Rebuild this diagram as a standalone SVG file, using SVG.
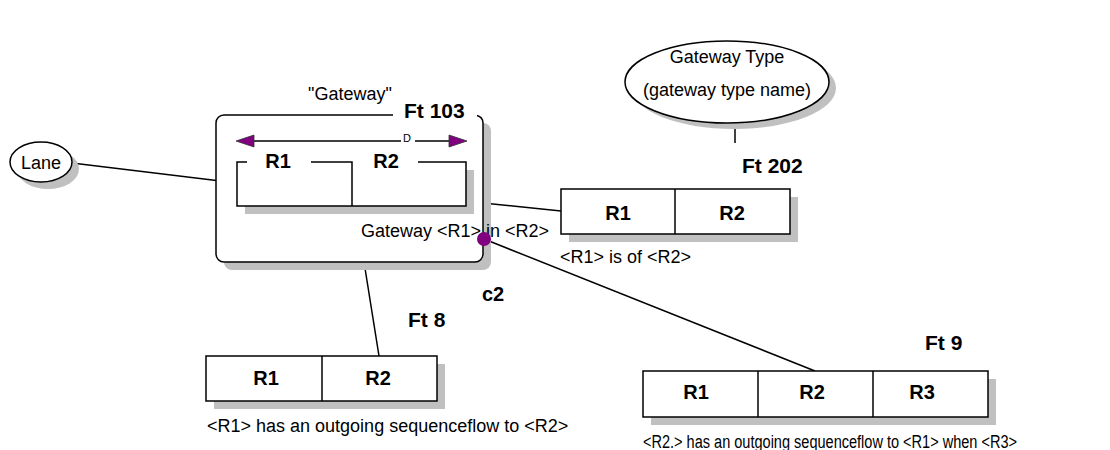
<svg xmlns="http://www.w3.org/2000/svg" width="1110" height="450" viewBox="0 0 1110 450">
<style>
.sh{fill:#c0c0c0;stroke:none}
.bx{fill:#fff;stroke:none}
.ln{fill:none;stroke:#000;stroke-width:1.5}
.t{font-family:"Liberation Sans",Arial,sans-serif;font-size:18px;fill:#000}
.b{font-family:"Liberation Sans",Arial,sans-serif;font-size:20px;font-weight:bold;fill:#000}
.ft{font-family:"Liberation Sans",Arial,sans-serif;font-size:21px;font-weight:bold;fill:#000}
.m{text-anchor:middle}
.pu{fill:#800080;stroke:#333;stroke-width:0.8}
</style>
<rect width="1110" height="450" fill="#fff"/>
<g id="connectors">
<line class="ln" x1="72" y1="163" x2="237" y2="183"/>
<line class="ln" x1="483" y1="203" x2="561" y2="211"/>
<line class="ln" x1="364" y1="262" x2="379" y2="356"/>
<line class="ln" x1="484" y1="239" x2="815" y2="371"/>
<line class="ln" x1="735" y1="127" x2="735" y2="143"/>
</g>
<g id="lane">
<ellipse class="sh" cx="48" cy="169" rx="31" ry="20"/>
<ellipse cx="41" cy="162" rx="31" ry="20" fill="#fff" stroke="#000" stroke-width="1.5"/>
<text class="t m" x="41" y="169">Lane</text>
</g>
<g id="gateway-type">
<ellipse class="sh" cx="734" cy="88" rx="102" ry="41"/>
<ellipse cx="727" cy="82" rx="102" ry="41" fill="#fff" stroke="#000" stroke-width="1.5"/>
<text class="t m" x="727" y="63">Gateway Type</text>
<text class="t m" x="727" y="96">(gateway type name)</text>
</g>
<g id="ft103">
<rect class="sh" x="224" y="123" width="267" height="147" rx="8"/>
<rect class="bx" x="216" y="115" width="267" height="147" rx="8"/>
<path class="ln" d="M393,115 H224 A8,8 0 0 0 216,123 V254 A8,8 0 0 0 224,262 H475 A8,8 0 0 0 483,254 V123 A8,8 0 0 0 477,115.5"/>
<text class="t m" x="350" y="100">"Gateway"</text>
<text class="ft" x="404" y="118">Ft 103</text>
<line class="ln" x1="253" y1="141" x2="401" y2="141"/>
<line class="ln" x1="415" y1="141" x2="450" y2="141"/>
<polygon class="pu" points="236,141 254,135 254,147"/>
<polygon class="pu" points="467,141 449,135 449,147"/>
<text x="403" y="142" font-family="Liberation Sans, Arial, sans-serif" font-size="11">D</text>
<rect class="sh" x="245" y="170" width="229" height="44"/>
<rect class="bx" x="237" y="162" width="229" height="44"/>
<path class="ln" d="M247,162 H237 V206 H466 V162 H418 M311,162 H352 V206"/>
<text class="b m" x="278" y="168">R1</text>
<text class="b m" x="386" y="168">R2</text>
<text class="t" x="361" y="237">Gateway &lt;R1&gt; in &lt;R2&gt;</text>
<circle cx="484" cy="239" r="7" fill="#800080"/>
<text class="b" x="482" y="301">c2</text>
</g>
<g id="ft202">
<rect class="sh" x="569" y="197" width="229" height="45"/>
<rect x="561" y="189" width="229" height="45" fill="#fff" stroke="#000" stroke-width="1.5"/>
<line class="ln" x1="675" y1="189" x2="675" y2="234"/>
<text class="ft" x="742" y="173">Ft 202</text>
<text class="b m" x="618" y="220">R1</text>
<text class="b m" x="732" y="220">R2</text>
<text class="t" x="560" y="263">&lt;R1&gt; is of &lt;R2&gt;</text>
</g>
<g id="ft8">
<rect class="sh" x="214" y="364" width="231" height="45"/>
<rect x="206" y="356" width="231" height="45" fill="#fff" stroke="#000" stroke-width="1.5"/>
<line class="ln" x1="322" y1="356" x2="322" y2="401"/>
<text class="ft" x="408" y="327">Ft 8</text>
<text class="b m" x="266" y="385">R1</text>
<text class="b m" x="378" y="385">R2</text>
<text class="t" x="207" y="432">&lt;R1&gt; has an outgoing sequenceflow to &lt;R2&gt;</text>
</g>
<g id="ft9">
<rect class="sh" x="651" y="379" width="345" height="46"/>
<rect x="643" y="371" width="345" height="46" fill="#fff" stroke="#000" stroke-width="1.5"/>
<line class="ln" x1="758" y1="371" x2="758" y2="417"/>
<line class="ln" x1="873" y1="371" x2="873" y2="417"/>
<text class="ft" x="925" y="350">Ft 9</text>
<text class="b m" x="696" y="399">R1</text>
<text class="b m" x="812" y="399">R2</text>
<text class="b m" x="922" y="399">R3</text>
<text class="t" x="643" y="448" font-size="17" textLength="374" lengthAdjust="spacingAndGlyphs">&lt;R2.&gt; has an outgoing sequenceflow to &lt;R1&gt; when &lt;R3&gt;</text>
</g>
</svg>
